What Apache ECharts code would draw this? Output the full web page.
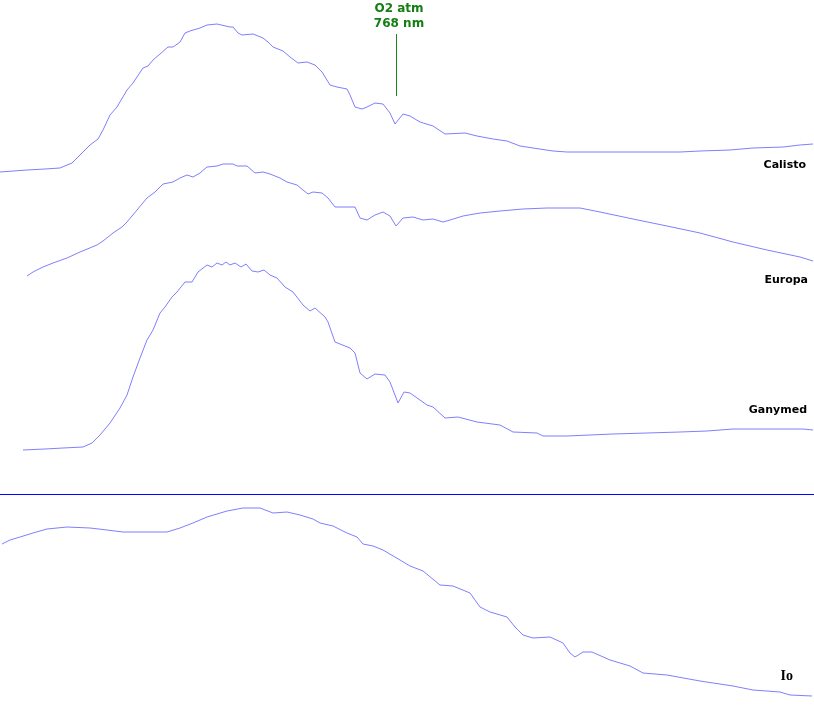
<!DOCTYPE html>
<html>
<head>
<meta charset="utf-8">
<script src="https://cdn.jsdelivr.net/npm/echarts@6/dist/echarts.min.js"></script>
<style>html,body{margin:0;padding:0;background:#fff}#c{width:814px;height:709px}</style>
</head>
<body>
<div id="c"></div>
<script>
// Wavelength (nm) and relative intensity for each moon spectrum
const calistoWl = [372,399,417,432,444,452,462,470,475,482,489,499,505,515,520,525,532,540,545,552,557,562,572,579,589,602,605,610,614,625,635,640,645,655,662,670,679,687,694,702,709,719,722,727,734,739,747,755,762,767,775,782,792,805,817,837,849,865,879,892,905,925,939,985,1052,1072,1102,1125,1155,1172,1185];
const calistoVal = [8,10,11,12,17,25,35,41,50,65,73,90,97,112,114,120,126,133,133,138,147,149,152,155,156,153,153,147,145,146,142,138,133,129,123,117,118,115,108,95,93,91,85,73,71,73,77,76,67,56,66,64,58,54,46,47,44,41,39,34,32,29,28,28,28,29,30,32,33,35,36];

const europaWl = [399,405,415,425,439,452,469,475,485,494,499,509,519,527,535,545,552,559,565,572,579,589,595,605,609,619,627,635,642,652,659,669,675,680,685,694,700,707,719,727,732,739,747,755,762,768,775,785,795,805,815,822,835,852,872,895,919,952,972,1005,1039,1072,1105,1139,1172,1185];
const europaVal = [14,18,23,27,32,38,45,49,57,63,68,80,92,98,106,108,112,115,113,117,123,124,126,126,124,124,117,118,116,112,108,105,100,96,98,97,92,83,83,83,72,70,75,78,74,64,72,73,70,71,68,70,74,77,79,81,82,82,78,71,64,57,48,40,33,29];

const ganymedWl = [395,417,435,455,464,472,482,492,499,505,512,519,525,532,537,544,549,557,564,570,579,584,589,594,598,602,607,613,618,624,630,636,642,649,657,665,675,682,687,697,700,707,722,727,732,739,747,757,762,770,776,782,799,805,817,830,849,872,885,909,915,939,985,1019,1052,1079,1105,1175,1185];
const ganymedVal = [10,11,12,13,17,25,37,52,65,83,102,120,130,147,153,163,168,178,178,188,195,193,197,195,198,195,197,193,196,189,188,190,185,182,173,168,155,149,152,143,138,118,112,107,87,81,86,85,78,57,68,67,55,53,42,43,38,35,28,27,24,24,26,27,28,29,31,31,30];

const ioWl = [374,382,392,405,419,439,462,479,495,539,552,565,579,599,615,632,645,659,672,685,692,705,719,729,735,745,755,772,782,795,812,825,842,852,862,879,887,895,905,922,935,942,947,955,964,982,1002,1015,1039,1072,1105,1125,1152,1162,1184];
const ioVal = [156,160,163,167,171,173,172,170,168,168,172,177,183,189,192,192,187,188,185,181,177,174,167,163,156,154,150,140,134,129,115,114,107,93,88,83,73,65,62,63,57,47,43,48,48,40,34,27,25,19,14,10,8,5,4];

const moonNames = ['Calisto','Europa','Ganymed','Io'];
const o2Wavelength = 768;
const o2Label = 'O2 atm\n768 nm';

const zip = (a, b) => a.map((x, i) => [x, b[i]]);
const lineColor = '#7f7fff';

const grids = [
  {left:0, right:0, top:10, height:170},
  {left:0, right:0, top:150, height:140},
  {left:0, right:0, top:250, height:210},
  {left:0, right:0, top:490, height:210}
];
const yMax = [170, 140, 210, 210];

const xAxes = grids.map((g, i) => ({type:'value', gridIndex:i, min:372, max:1186, show:false}));
const yAxes = grids.map((g, i) => ({type:'value', gridIndex:i, min:0, max:yMax[i], show:false}));

const data = [zip(calistoWl, calistoVal), zip(europaWl, europaVal), zip(ganymedWl, ganymedVal), zip(ioWl, ioVal)];

const series = data.map((d, i) => ({
  type:'line', name: moonNames[i], xAxisIndex:i, yAxisIndex:i, data:d,
  symbol:'none', smooth:false, silent:true,
  lineStyle:{color:lineColor, width:1}
}));

series[0].markLine = {
  silent:true, symbol:['none','none'], animation:false,
  lineStyle:{color:'#1a861a', width:1, type:'solid'},
  label:{show:true, position:'start', distance:3, offset:[3,0], formatter:o2Label, color:'#137f13',
         fontFamily:'DejaVu Sans', fontWeight:'bold', fontSize:12, lineHeight:15, align:'center'},
  data:[[{coord:[o2Wavelength,146]},{coord:[o2Wavelength,84]}]]
};
series[3].markLine = {
  silent:true, symbol:['none','none'], animation:false,
  lineStyle:{color:'#0000ff', width:1, type:'solid'},
  label:{show:false},
  data:[{yAxis:206}]
};

const labelPos = [[806,165],[808,280],[807,410],[793,676]];
const graphic = moonNames.map((n, i) => ({
  type:'text', x:labelPos[i][0], y:labelPos[i][1], silent:true,
  style:{text:n, fill:'#000', textAlign:'right', textVerticalAlign:'middle',
         font: i === 3 ? 'bold 14px "Liberation Serif"' : 'bold 11px "DejaVu Sans"'}
}));

const chart = echarts.init(document.getElementById('c'), null, {renderer:'canvas'});
chart.setOption({
  animation:false,
  backgroundColor:'#ffffff',
  grid:grids, xAxis:xAxes, yAxis:yAxes, series:series, graphic:graphic
});
</script>
</body>
</html>
